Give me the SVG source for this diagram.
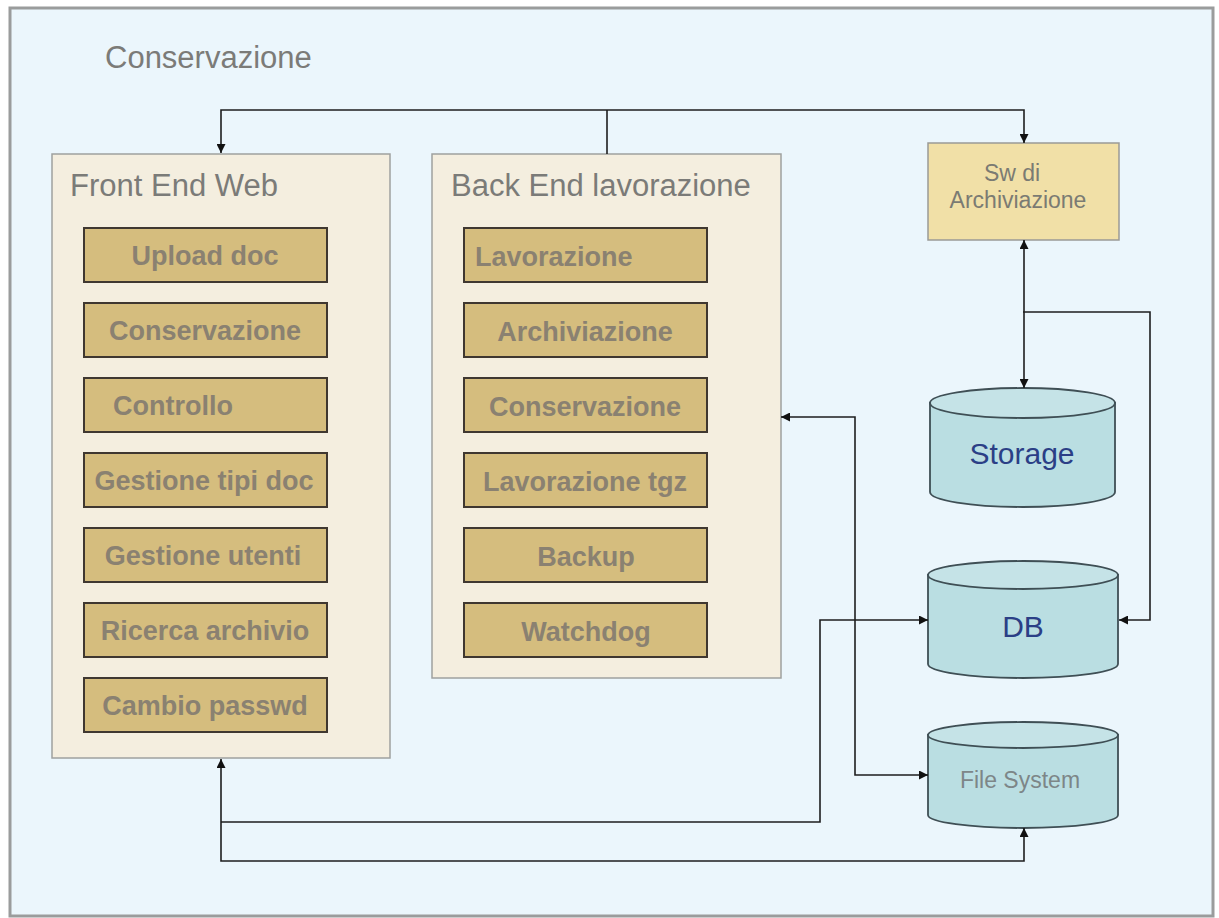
<svg xmlns="http://www.w3.org/2000/svg" width="1219" height="918" viewBox="0 0 1219 918">
<style>
.frame{fill:#EBF6FC;stroke:#9a9c9c;stroke-width:3}
.panel{fill:#F4EEDF;stroke:#9fa19f;stroke-width:1.5}
.item{fill:#D5BD7E;stroke:#3f3730;stroke-width:2}
.itxt{font-family:"Liberation Sans",Arial,sans-serif;font-weight:bold;font-size:27px;fill:#8A8171}
.ttl{font-family:"Liberation Sans",Arial,sans-serif;font-size:31px;fill:#7b7b78}
.sw{fill:#F1E0A7;stroke:#9a9a96;stroke-width:1.5}
.swt{font-family:"Liberation Sans",Arial,sans-serif;font-size:23px;fill:#7b7b73;text-anchor:middle}
.cyl{fill:#BADEE2;stroke:#3f4f55;stroke-width:1.8}
.cyltop{fill:#C5E3E7;stroke:#3f4f55;stroke-width:1.8}
.dbt{font-family:"Liberation Sans",Arial,sans-serif;font-size:30px;fill:#2B3F86;text-anchor:middle}
.fst{font-family:"Liberation Sans",Arial,sans-serif;font-size:23px;fill:#7d8688;text-anchor:middle}
.con{fill:none;stroke:#1e1e1e;stroke-width:1.6}
</style>
<defs>
<marker id="ah" viewBox="0 0 10 10" refX="10" refY="5" markerWidth="11" markerHeight="9" markerUnits="userSpaceOnUse" orient="auto-start-reverse">
<path d="M0,0 L10,5 L0,10 z" fill="#111"/>
</marker>
</defs>
<rect class="frame" x="10" y="8" width="1203" height="908"/>
<text class="ttl" x="105" y="68">Conservazione</text>

<g id="front-end-web">
<rect class="panel" x="52" y="154" width="338" height="604"/>
<text class="ttl" x="70" y="196">Front End Web</text>
<rect class="item" x="84" y="228" width="243" height="54"/>
<text class="itxt" x="205" y="265" text-anchor="middle">Upload doc</text>
<rect class="item" x="84" y="303" width="243" height="54"/>
<text class="itxt" x="205" y="340" text-anchor="middle">Conservazione</text>
<rect class="item" x="84" y="378" width="243" height="54"/>
<text class="itxt" x="113" y="415">Controllo</text>
<rect class="item" x="84" y="453" width="243" height="54"/>
<text class="itxt" x="204" y="490" text-anchor="middle">Gestione tipi doc</text>
<rect class="item" x="84" y="528" width="243" height="54"/>
<text class="itxt" x="203" y="565" text-anchor="middle">Gestione utenti</text>
<rect class="item" x="84" y="603" width="243" height="54"/>
<text class="itxt" x="205" y="640" text-anchor="middle">Ricerca archivio</text>
<rect class="item" x="84" y="678" width="243" height="54"/>
<text class="itxt" x="205" y="715" text-anchor="middle">Cambio passwd</text>
</g>

<g id="back-end-lavorazione">
<rect class="panel" x="432" y="154" width="349" height="524"/>
<text class="ttl" x="451" y="196">Back End lavorazione</text>
<rect class="item" x="464" y="228" width="243" height="54"/>
<text class="itxt" x="475" y="266">Lavorazione</text>
<rect class="item" x="464" y="303" width="243" height="54"/>
<text class="itxt" x="585" y="341" text-anchor="middle">Archiviazione</text>
<rect class="item" x="464" y="378" width="243" height="54"/>
<text class="itxt" x="585" y="416" text-anchor="middle">Conservazione</text>
<rect class="item" x="464" y="453" width="243" height="54"/>
<text class="itxt" x="585" y="491" text-anchor="middle">Lavorazione tgz</text>
<rect class="item" x="464" y="528" width="243" height="54"/>
<text class="itxt" x="586" y="566" text-anchor="middle">Backup</text>
<rect class="item" x="464" y="603" width="243" height="54"/>
<text class="itxt" x="586" y="641" text-anchor="middle">Watchdog</text>
</g>

<g id="sw-archiviazione">
<rect class="sw" x="928" y="143" width="191" height="97"/>
<text class="swt" x="1012" y="181">Sw di</text>
<text class="swt" x="1018" y="208">Archiviazione</text>
</g>

<g id="storage">
<path class="cyl" d="M930,403 L930,492 A92.5,15 0 0 0 1115,492 L1115,403 Z"/>
<ellipse class="cyltop" cx="1022.5" cy="403" rx="92.5" ry="15"/>
<text class="dbt" x="1022" y="464">Storage</text>
</g>

<g id="db">
<path class="cyl" d="M928,575 L928,664 A95,14 0 0 0 1118,664 L1118,575 Z"/>
<ellipse class="cyltop" cx="1023" cy="575" rx="95" ry="14"/>
<text class="dbt" x="1023" y="637">DB</text>
</g>

<g id="file-system">
<path class="cyl" d="M928,735 L928,815 A95,13 0 0 0 1118,815 L1118,735 Z"/>
<ellipse class="cyltop" cx="1023" cy="735" rx="95" ry="13"/>
<text class="fst" x="1020" y="788">File System</text>
</g>

<g id="connectors">
<path class="con" d="M221,153 L221,110 L1024,110 L1024,143" marker-start="url(#ah)" marker-end="url(#ah)"/>
<path class="con" d="M607,110 L607,154"/>
<path class="con" d="M1024,240 L1024,388" marker-start="url(#ah)" marker-end="url(#ah)"/>
<path class="con" d="M1023,312 L1150,312 L1150,620 L1119,620" marker-end="url(#ah)"/>
<path class="con" d="M781,417 L855,417 L855,775 L928,775" marker-start="url(#ah)" marker-end="url(#ah)"/>
<path class="con" d="M221,759 L221,861 L1024,861 L1024,828" marker-start="url(#ah)" marker-end="url(#ah)"/>
<path class="con" d="M221,822 L820,822 L820,620 L928,620" marker-end="url(#ah)"/>
</g>
</svg>
